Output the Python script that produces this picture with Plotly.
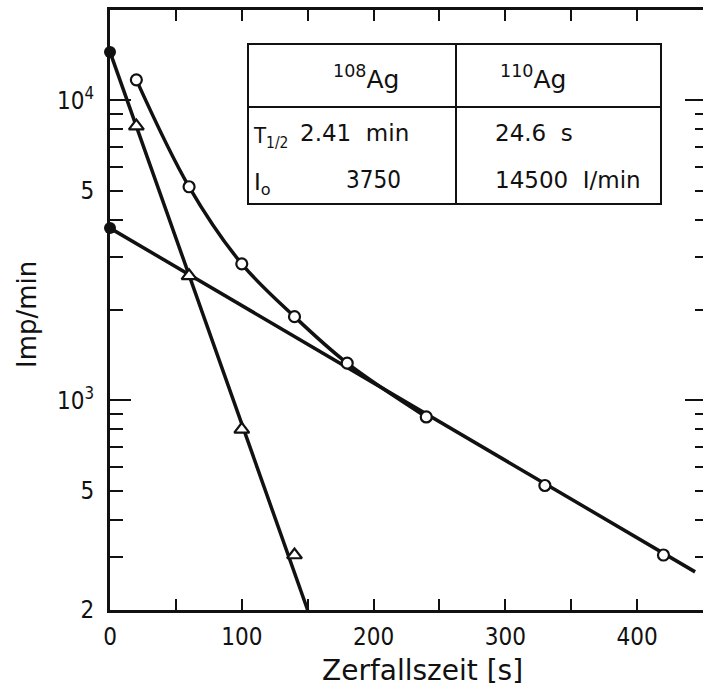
import plotly.graph_objects as go

# ---- data ----
sum_x = [20, 60, 100, 140, 180, 240, 330, 420]          # total activity (open circles)
sum_y = [11700, 5150, 2850, 1900, 1330, 880, 520, 305]
curve_x = [20, 60, 100, 140, 180, 240]                    # smooth sum curve
curve_y = [11700, 5150, 2850, 1900, 1330, 880]
ag110_x = [20, 60, 100, 140]                              # 110Ag (open triangles)
ag110_y = [8200, 2600, 800, 305]
line108_x = [0, 444]                                      # 108Ag decay line
line108_y = [3750, 268]
line110_x = [0, 150]                                      # 110Ag decay line
line110_y = [14500, 200]
start_x = [0, 0]                                          # extrapolated I0 (filled dots)
start_y = [14500, 3750]

x_ticks = [0, 100, 200, 300, 400]
x_ticktext = ["0", "100", "200", "300", "400"]
y_ticks = [200, 500, 1000, 5000, 10000]
y_ticktext = ["2", "5", "10<sup>3</sup>", "5", "10<sup>4</sup>"]
y_major = [1000, 10000]
y_minor_left = [300, 400, 600, 700, 800, 900, 2000, 3000, 4000, 6000, 7000, 8000, 9000]
y_minor_right = [300, 400, 500, 600, 700, 800, 900, 2000, 3000, 4000, 5000, 6000, 7000, 8000, 9000]

FONT = "DejaVu Sans Condensed, DejaVu Sans, sans-serif"
FONT_W = "DejaVu Sans, sans-serif"
BLACK = "#111111"

fig = go.Figure()
fig.add_trace(go.Scatter(x=line108_x, y=line108_y, mode="lines",
                         line=dict(color=BLACK, width=3.5), showlegend=False))
fig.add_trace(go.Scatter(x=line110_x, y=line110_y, mode="lines",
                         line=dict(color=BLACK, width=3.5), showlegend=False))
fig.add_trace(go.Scatter(x=curve_x, y=curve_y, mode="lines",
                         line=dict(color=BLACK, width=3.5, shape="spline", smoothing=1.0),
                         showlegend=False))
fig.add_trace(go.Scatter(x=sum_x, y=sum_y, mode="markers",
                         marker=dict(symbol="circle", size=11, color="white",
                                     line=dict(color=BLACK, width=2.2)),
                         showlegend=False))
fig.add_trace(go.Scatter(x=ag110_x, y=ag110_y, mode="markers",
                         marker=dict(symbol="triangle-up", size=13, color="white",
                                     line=dict(color=BLACK, width=2.2)),
                         showlegend=False))
fig.add_trace(go.Scatter(x=start_x, y=start_y, mode="markers", cliponaxis=False,
                         marker=dict(symbol="circle", size=12, color=BLACK),
                         showlegend=False))
# invisible traces to make the extra tick axes render
for ax in ["y2", "y3", "y4", "y5"]:
    fig.add_trace(go.Scatter(x=[None], y=[None], yaxis=ax, showlegend=False,
                             hoverinfo="skip"))

yr = [2.30103, 4.30103]
fig.update_layout(
    width=703, height=686,
    margin=dict(l=110, r=0, t=10, b=76),
    paper_bgcolor="white", plot_bgcolor="white",
    font=dict(family=FONT, size=22, color=BLACK),
    xaxis=dict(range=[0, 450], tickmode="array", tickvals=x_ticks, ticktext=x_ticktext,
               ticks="inside", ticklen=11, tickwidth=2, tickcolor=BLACK,
               minor=dict(tickmode="linear", tick0=0, dtick=50, ticks="inside",
                          ticklen=11, tickwidth=2, tickcolor=BLACK, showgrid=False),
               showline=True, linewidth=3, linecolor=BLACK, mirror="allticks",
               showgrid=False, zeroline=False, tickfont=dict(size=24),
               ticklabelstandoff=3),
    yaxis=dict(type="log", range=yr, tickmode="array", tickvals=y_ticks, ticktext=y_ticktext,
               ticks="inside", ticklen=13, tickwidth=2, tickcolor=BLACK,
               showline=True, linewidth=3, linecolor=BLACK, mirror=False,
               showgrid=False, zeroline=False, tickfont=dict(size=24),
               ticklabelstandoff=8),
    yaxis2=dict(type="log", range=yr, overlaying="y", side="left", tickmode="array",
                tickvals=y_major, ticks="inside", ticklen=21, tickwidth=2, tickcolor=BLACK,
                showticklabels=False, showline=False, showgrid=False, zeroline=False),
    yaxis3=dict(type="log", range=yr, overlaying="y", side="left", tickmode="array",
                tickvals=y_minor_left, ticks="inside", ticklen=13, tickwidth=2, tickcolor=BLACK,
                showticklabels=False, showline=False, showgrid=False, zeroline=False),
    yaxis4=dict(type="log", range=yr, overlaying="y", side="right", tickmode="array",
                tickvals=y_major, ticks="inside", ticklen=18, tickwidth=2, tickcolor=BLACK,
                showticklabels=False, showline=False, showgrid=False, zeroline=False),
    yaxis5=dict(type="log", range=yr, overlaying="y", side="right", tickmode="array",
                tickvals=y_minor_right, ticks="inside", ticklen=8, tickwidth=2, tickcolor=BLACK,
                showticklabels=False, showline=False, showgrid=False, zeroline=False),
)

def px_x(p):
    return (p - 110) / 593.0

def px_y(p):
    return (610 - p) / 600.0

# inset table
L, R, T, B = px_x(248), px_x(661), px_y(44), px_y(204)
MX, MY = px_x(456), px_y(107)
line_style = dict(color=BLACK, width=2)
fig.add_shape(type="rect", xref="paper", yref="paper", x0=L, x1=R, y0=B, y1=T,
              line=line_style, fillcolor="white", layer="above")
fig.add_shape(type="line", xref="paper", yref="paper", x0=MX, x1=MX, y0=B, y1=T,
              line=line_style, layer="above")
fig.add_shape(type="line", xref="paper", yref="paper", x0=L, x1=R, y0=MY, y1=MY,
              line=line_style, layer="above")

def txt(text, xpx, ypx, anchor="left", size=23, family=FONT_W):
    fig.add_annotation(text=text, xref="paper", yref="paper", x=px_x(xpx), y=px_y(ypx),
                       xanchor=anchor, yanchor="middle", showarrow=False,
                       font=dict(family=family, size=size, color=BLACK))

txt("<sup>108</sup>Ag", 366, 78, "center", 25)
txt("<sup>110</sup>Ag", 533, 78, "center", 25)
txt("T<sub>1/2</sub>", 251, 137, size=22, family=FONT)
txt("2.41  min", 298, 133)
txt("24.6  s", 493, 133)
txt("I<sub>o</sub>", 252, 184)
txt("3750", 344, 180, family=FONT, size=24)
txt("14500  I/min", 493, 180)

# axis titles
fig.add_annotation(text="Zerfallszeit [s]", xref="paper", yref="paper",
                   x=px_x(422), y=px_y(670), xanchor="center", yanchor="middle",
                   showarrow=False, font=dict(family=FONT_W, size=28, color=BLACK))
fig.add_annotation(text="Imp/min", xref="paper", yref="paper", textangle=-90,
                   x=px_x(27), y=px_y(315), xanchor="center", yanchor="middle",
                   showarrow=False, font=dict(family=FONT_W, size=26, color=BLACK))

fig.write_html("out.html")
